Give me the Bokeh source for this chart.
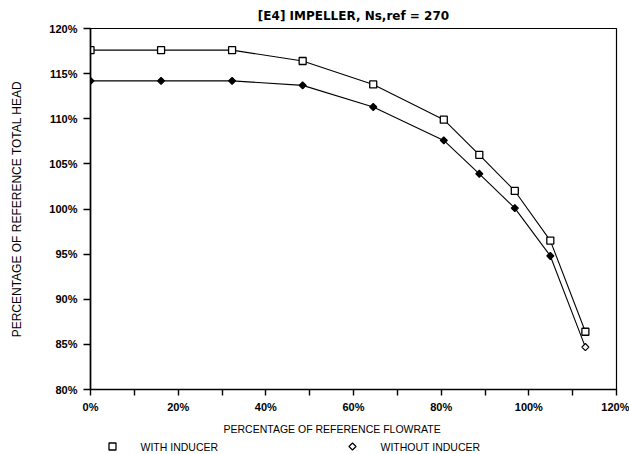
import math
from bokeh.plotting import figure
from bokeh.layouts import column
from bokeh.models import FixedTicker, ColumnDataSource, Range1d, Title
from bokeh.embed import file_html
from bokeh.resources import INLINE

# ---- data ----
flow_pct = [0, 16.1, 32.3, 48.4, 64.5, 80.6, 88.7, 96.8, 104.9, 112.9]
head_with_inducer = [117.6, 117.6, 117.6, 116.4, 113.8, 109.9, 106.0, 102.0, 96.5, 86.4]
head_without_inducer = [114.2, 114.2, 114.2, 113.7, 111.3, 107.6, 103.9, 100.1, 94.8, 84.7]
without_marker_fill = ["black"] * 9 + ["white"]

x_ticks = [0, 20, 40, 60, 80, 100, 120]
x_minor_ticks = [10, 30, 50, 70, 90, 110]
x_tick_labels = ["0%", "20%", "40%", "60%", "80%", "100%", "120%"]
y_ticks = [80, 85, 90, 95, 100, 105, 110, 115, 120]
y_tick_labels = ["80%", "85%", "90%", "95%", "100%", "105%", "110%", "115%", "120%"]

title_text = "[E4] IMPELLER, Ns,ref = 270"
x_label_text = "PERCENTAGE OF REFERENCE FLOWRATE"
y_label_text = "PERCENTAGE OF REFERENCE TOTAL HEAD"
series_names = ["WITH INDUCER", "WITHOUT INDUCER"]

FONT = "Liberation Sans"
W, H_MAIN, H_LEG = 629, 440, 14
B_LEFT, B_RIGHT = 90, 13

p = figure(width=W, height=H_MAIN,
           x_range=Range1d(0, 120), y_range=Range1d(80, 120),
           output_backend="svg", toolbar_location=None,
           min_border_left=B_LEFT, min_border_right=B_RIGHT,
           min_border_top=28, min_border_bottom=49)
p.background_fill_color = "white"
p.border_fill_color = "white"
p.outline_line_color = "black"
p.outline_line_width = 1.2
p.grid.visible = False

# title
p.title.text = title_text
p.title.align = "center"
p.title.text_font = "DejaVu Sans"
p.title.text_font_style = "bold"
p.title.text_font_size = "12px"
p.title.text_color = "black"
p.title.standoff = 12

# axes
p.xaxis.ticker = FixedTicker(ticks=x_ticks, minor_ticks=x_minor_ticks)
p.xaxis.major_label_overrides = {t: l for t, l in zip(x_ticks, x_tick_labels)}
p.yaxis.ticker = FixedTicker(ticks=y_ticks, minor_ticks=[])
p.yaxis.major_label_overrides = {t: l for t, l in zip(y_ticks, y_tick_labels)}

for ax in (p.xaxis, p.yaxis):
    ax.axis_line_color = "black"
    ax.axis_line_width = 1.6
    ax.major_tick_line_color = "black"
    ax.major_tick_line_width = 1.4
    ax.minor_tick_line_color = "black"
    ax.minor_tick_line_width = 1.4
    ax.major_tick_in = 0
    ax.minor_tick_in = 0
    ax.major_label_text_font = FONT
    ax.major_label_text_font_style = "bold"
    ax.major_label_text_font_size = "11px"
    ax.major_label_text_color = "black"

p.xaxis.major_tick_out = 6
p.xaxis.minor_tick_out = 6
p.xaxis.major_label_standoff = 5
p.yaxis.major_tick_out = 7
p.yaxis.major_label_standoff = 6

p.yaxis.axis_label = y_label_text
p.yaxis.axis_label_text_font = FONT
p.yaxis.axis_label_text_font_style = "normal"
p.yaxis.axis_label_text_font_size = "12px"
p.yaxis.axis_label_text_color = "black"
p.yaxis.axis_label_standoff = 22

# x axis label as a left-aligned title below the axis
x_title = Title(text=x_label_text, align="left", offset=133, standoff=11,
                text_font=FONT, text_font_style="normal",
                text_font_size="10.5px", text_color="black")
p.add_layout(x_title, "below")

# data series
src_with = ColumnDataSource(dict(x=flow_pct, y=head_with_inducer))
src_without = ColumnDataSource(dict(x=flow_pct, y=head_without_inducer, fc=without_marker_fill))

p.line("x", "y", source=src_with, line_color="black", line_width=1.1)
p.scatter("x", "y", source=src_with, marker="square", size=7,
          fill_color="white", line_color="black", line_width=1.3)
p.line("x", "y", source=src_without, line_color="black", line_width=1.1)
p.scatter("x", "y", source=src_without, marker="square", angle=math.pi / 4, size=5,
          fill_color="fc", line_color="black", line_width=1.2)

# ---- legend strip below the chart (pixel coordinate space, frame aligned with chart) ----
lf = figure(width=W, height=H_LEG, x_range=Range1d(B_LEFT, W - B_RIGHT),
            y_range=Range1d(H_LEG, 0),
            x_axis_type=None, y_axis_type=None, output_backend="svg",
            toolbar_location=None, min_border=0,
            min_border_left=B_LEFT, min_border_right=B_RIGHT)
lf.outline_line_color = None
lf.grid.visible = False
lf.background_fill_color = "white"
lf.border_fill_color = "white"

leg_marker_x = [112, 352]
leg_text_x = [140, 380]
leg_y = 6
lf.scatter([leg_marker_x[0]], [leg_y], marker="square", size=7, fill_color="white",
           line_color="black", line_width=1.3)
lf.scatter([leg_marker_x[1]], [leg_y], marker="square", angle=math.pi / 4, size=5,
           fill_color="white", line_color="black", line_width=1.2)
lf.text(x=leg_text_x, y=[leg_y, leg_y], text=series_names,
        text_font={"value": FONT}, text_font_size="10.5px", text_color="black",
        text_align="left", text_baseline="middle")

layout = column(p, lf, spacing=0)
open("out.html", "w").write(file_html(layout, INLINE))
